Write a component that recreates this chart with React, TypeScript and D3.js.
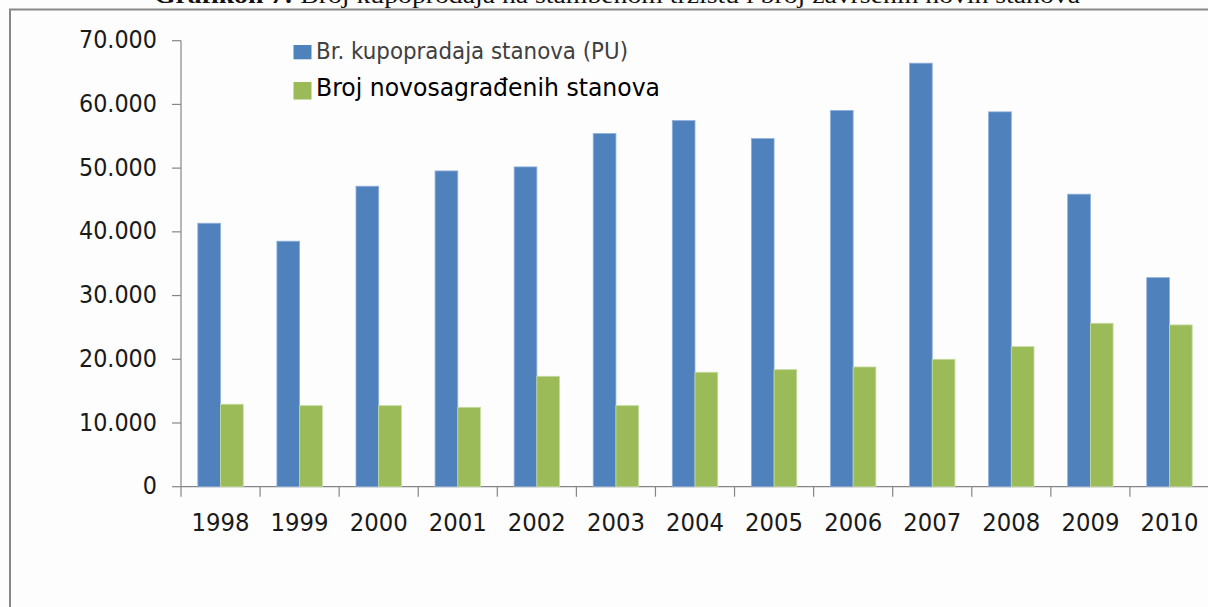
import React from "react";
import * as d3 from "d3";

const years = ["1998", "1999", "2000", "2001", "2002", "2003", "2004", "2005", "2006", "2007", "2008", "2009", "2010"];
const sales = [41350, 38530, 47160, 49560, 50190, 55420, 57460, 54640, 59050, 66470, 58830, 45910, 32810];
const newFlats = [12940, 12720, 12720, 12460, 17330, 12720, 17960, 18370, 18790, 20000, 21980, 25650, 25390];
const yTicks = [0, 10000, 20000, 30000, 40000, 50000, 60000, 70000];
const legendLabels = ["Br. kupopradaja stanova (PU)", "Broj novosagrađenih stanova"];
const title = "Broj kupoprodaja na stambenom tržištu i broj završenih novih stanova";

const W = 1208, H = 607;
const BLUE = "#4f81bd", GREEN = "#9bbb59", AXIS = "#868686";
const FONT = "'DejaVu Sans', Verdana, sans-serif";

function fmt(v: number) {
  // 10000 -> 10.000
  return v === 0 ? "0" : d3.format(",")(v).replace(/,/g, ".");
}

export default function App() {
  const x = d3.scaleBand().domain(years).range([181, 1209]).padding(0);
  const y = d3.scaleLinear().domain([0, 70000]).range([486.7, 40.7]);
  const bw = x.bandwidth() * 0.287;
  const y0 = y(0);

  return (
    <div style={{ position: "absolute", left: 0, top: 0 }}>
      <svg width={W} height={H} style={{ display: "block" }}>
        <rect width={W} height={H} fill="#fdfdfd" />

        {/* title, cut off at the top like in the source */}
        <text x={154} y={3} fontFamily="'Liberation Serif', 'Times New Roman', serif" fontSize={24} fill="#111"
          textLength={926} lengthAdjust="spacingAndGlyphs">
          <tspan fontWeight="bold">Grafikon 7:</tspan> {title}
        </text>

        {/* frame */}
        <path d={`M10,${H} V9.5 H${W}`} fill="none" stroke="#888" strokeWidth={2} />

        {/* y axis */}
        <line x1={181} x2={181} y1={y(70000)} y2={y0} stroke={AXIS} strokeWidth={1.2} />
        {yTicks.map(t => (
          <g key={t}>
            <line x1={172} x2={181} y1={y(t)} y2={y(t)} stroke={AXIS} strokeWidth={1.2} />
            <text transform={`translate(157,${y(t) + 7.6}) scale(1,1.1)`} textAnchor="end"
              fontFamily={FONT} fontSize={22.3} fill="#1a1a1a">{fmt(t)}</text>
          </g>
        ))}

        {/* x axis */}
        <line x1={181} x2={W} y1={y0} y2={y0} stroke={AXIS} strokeWidth={1.2} />
        {years.map(d => (
          <g key={d}>
            <line x1={x(d)!} x2={x(d)!} y1={y0} y2={y0 + 10} stroke={AXIS} strokeWidth={1.2} />
            <text transform={`translate(${x(d)! + x.bandwidth() / 2},530.7) scale(1,1.06)`} textAnchor="middle"
              fontFamily={FONT} fontSize={22.8} fill="#1a1a1a">{d}</text>
          </g>
        ))}

        {/* bars */}
        {years.map((d, i) => {
          const c = x(d)! + x.bandwidth() / 2;
          return (
            <g key={d}>
              <rect x={c - bw} y={y(sales[i])} width={bw} height={y0 - y(sales[i])} fill={BLUE} stroke="#8eaedb" strokeWidth={0.8} />
              <rect x={c} y={y(newFlats[i])} width={bw} height={y0 - y(newFlats[i])} fill={GREEN} stroke="#c6dba0" strokeWidth={0.8} />
            </g>
          );
        })}

        {/* legend */}
        <rect x={293.5} y={45} width={18} height={14.3} fill={BLUE} />
        <text transform="translate(316,59) scale(1,1.12)" fontFamily={FONT} fontSize={20} fill="#404040"
          textLength={312} lengthAdjust="spacingAndGlyphs">{legendLabels[0]}</text>
        <rect x={293.5} y={82} width={18} height={17.5} fill={GREEN} />
        <text transform="translate(316,95.5) scale(1,1.1)" fontFamily={FONT} fontSize={22.5} fill="#000"
          textLength={344} lengthAdjust="spacingAndGlyphs">{legendLabels[1]}</text>
      </svg>
    </div>
  );
}
